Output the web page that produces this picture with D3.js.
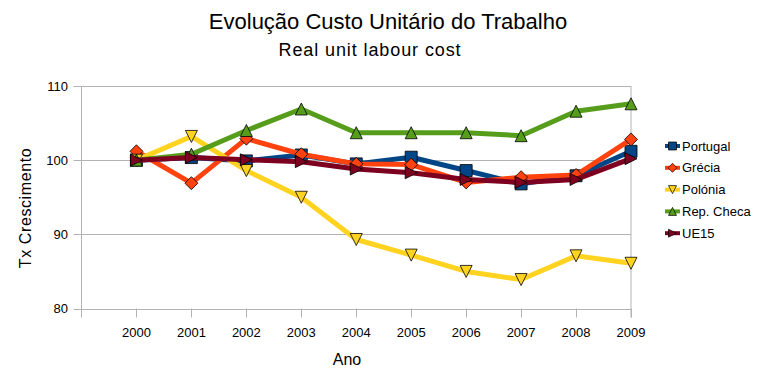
<!DOCTYPE html>
<html>
<head>
<meta charset="utf-8">
<script src="https://cdn.jsdelivr.net/npm/d3@7"></script>
<style>
  body { margin: 0; background: #fff; }
  svg { font-family: "Liberation Sans", Arial, sans-serif; }
</style>
</head>
<body>
<svg id="chart" width="775" height="384"></svg>
<script>
// --- data ---
const years = [2000, 2001, 2002, 2003, 2004, 2005, 2006, 2007, 2008, 2009];
const portugal = [100, 100.35, 99.9, 100.7, 99.5, 100.4, 98.6, 96.8, 97.9, 101.2];
const grecia = [101.2, 96.9, 102.9, 100.8, 99.5, 99.4, 97.0, 97.7, 98.0, 102.8];
const polonia = [100, 103.2, 98.6, 95.0, 89.3, 87.2, 85.0, 83.9, 87.1, 86.1];
const repCheca = [100, 100.8, 104.0, 106.9, 103.7, 103.7, 103.7, 103.3, 106.6, 107.6];
const ue15 = [100, 100.35, 100.05, 99.8, 98.8, 98.3, 97.4, 97.0, 97.4, 100.2];
const yTicks = [80, 90, 100, 110];

const series = [
  { name: "Portugal", values: portugal, color: "#004586", symbol: "square" },
  { name: "Grécia", values: grecia, color: "#ff420e", symbol: "diamond" },
  { name: "Polónia", values: polonia, color: "#ffd320", symbol: "down" },
  { name: "Rep. Checa", values: repCheca, color: "#579d1c", symbol: "up" },
  { name: "UE15", values: ue15, color: "#7e0021", symbol: "right" }
];

const svg = d3.select("#chart");
const plotL = 81.5, plotR = 631, plotT = 86, plotB = 308.5;

const x = d3.scaleLinear().domain([1999, 2009]).range([plotL, plotR]);
const y = d3.scaleLinear().domain([80, 110]).range([plotB, plotT]);

// symbol path generator, s = half-extent
function symbolPath(type, s) {
  switch (type) {
    case "square": return `M${-s},${-s}H${s}V${s}H${-s}Z`;
    case "diamond": return `M0,${-s}L${s},0L0,${s}L${-s},0Z`;
    case "down": return `M${-s},${-s}H${s}L0,${s}Z`;
    case "up": return `M0,${-s}L${s},${s}H${-s}Z`;
    case "right": return `M${-s},${-s}L${s},0L${-s},${s}Z`;
  }
}

// --- titles ---
svg.append("text").attr("x", 388).attr("y", 28.5).attr("text-anchor", "middle")
  .style("font-size", "22px").text("Evolução Custo Unitário do Trabalho");
svg.append("text").attr("x", 370).attr("y", 56).attr("text-anchor", "middle")
  .style("font-size", "18px").style("letter-spacing", "0.9px").text("Real unit labour cost");

// --- grid & axes ---
const grid = svg.append("g");
grid.selectAll("line.h").data(yTicks).join("line")
  .attr("x1", plotL - 8).attr("x2", plotR)
  .attr("y1", d => Math.round(y(d)) + 0.5).attr("y2", d => Math.round(y(d)) + 0.5)
  .attr("stroke", "#b3b3b3");
grid.append("line").attr("x1", plotL).attr("x2", plotL).attr("y1", plotT).attr("y2", plotB + 9)
  .attr("stroke", "#b3b3b3");
grid.append("line").attr("x1", plotR).attr("x2", plotR).attr("y1", plotT).attr("y2", plotB + 9)
  .attr("stroke", "#b3b3b3");
grid.selectAll("line.t").data(years).join("line")
  .attr("x1", d => Math.round(x(d)) + 0.5).attr("x2", d => Math.round(x(d)) + 0.5)
  .attr("y1", plotB).attr("y2", plotB + 9)
  .attr("stroke", "#b3b3b3");

svg.append("g").selectAll("text").data(yTicks).join("text")
  .attr("x", 68).attr("y", d => y(d) + 4.5).attr("text-anchor", "end")
  .style("font-size", "13px").text(d => d);

svg.append("g").selectAll("text").data(years).join("text")
  .attr("x", d => x(d)).attr("y", 337).attr("text-anchor", "middle")
  .style("font-size", "13px").text(d => d);

svg.append("text").attr("x", 347).attr("y", 365).attr("text-anchor", "middle")
  .style("font-size", "16px").text("Ano");
svg.append("text").attr("transform", "translate(31,208) rotate(-90)").attr("text-anchor", "middle")
  .style("font-size", "16px").style("letter-spacing", "0.6px").text("Tx Crescimento");

// --- series ---
const line = d3.line().x((d, i) => x(years[i])).y(d => y(d));
series.forEach(s => {
  const g = svg.append("g");
  g.append("path").attr("d", line(s.values)).attr("fill", "none")
    .attr("stroke", s.color).attr("stroke-width", 5).attr("stroke-linejoin", "round");
  g.selectAll("path.m").data(s.values).join("path")
    .attr("transform", (d, i) => `translate(${x(years[i])},${y(d)})`)
    .attr("d", symbolPath(s.symbol, s.symbol === "diamond" ? 6.5 : 6))
    .attr("fill", s.color).attr("stroke", "#000").attr("stroke-width", 0.8);
});

// --- legend ---
const legend = svg.append("g");
series.forEach((s, i) => {
  const ly = 146 + i * 21.8;
  legend.append("line").attr("x1", 665).attr("x2", 680).attr("y1", ly).attr("y2", ly)
    .attr("stroke", s.color).attr("stroke-width", 4);
  legend.append("path").attr("transform", `translate(672.5,${ly})`)
    .attr("d", symbolPath(s.symbol, s.symbol === "diamond" ? 4.5 : 4))
    .attr("fill", s.color).attr("stroke", "#000").attr("stroke-width", 0.7);
  legend.append("text").attr("x", 682).attr("y", ly + 4.5)
    .style("font-size", "13px").text(s.name);
});
</script>
</body>
</html>
